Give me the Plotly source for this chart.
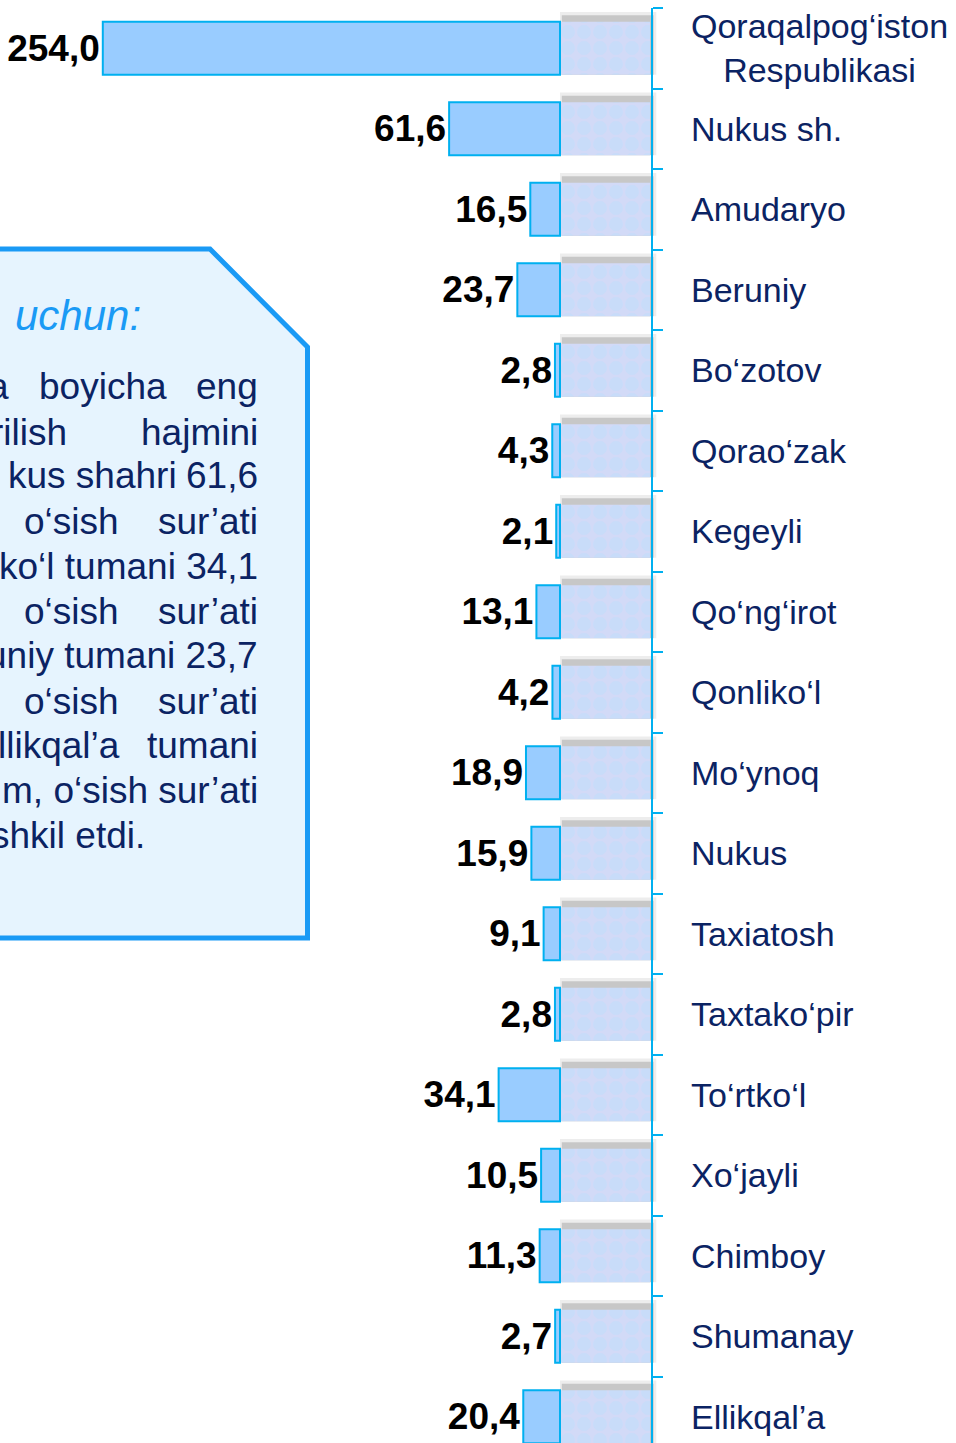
import plotly.graph_objects as go

# ---------------- data ----------------
categories = [
    "Qoraqalpog‘iston<br>Respublikasi", "Nukus sh.", "Amudaryo", "Beruniy", "Bo‘zotov",
    "Qorao‘zak", "Kegeyli", "Qo‘ng‘irot", "Qonliko‘l", "Mo‘ynoq", "Nukus",
    "Taxiatosh", "Taxtako‘pir", "To‘rtko‘l", "Xo‘jayli", "Chimboy", "Shumanay", "Ellikqal’a",
]
values = [254.0, 61.6, 16.5, 23.7, 2.8, 4.3, 2.1, 13.1, 4.2, 18.9, 15.9, 9.1, 2.8, 34.1, 10.5, 11.3, 2.7, 20.4]
backdrop_depth = [50] * len(categories)

W, H = 956, 1443
def px(x):
    return x / W
def py(y):
    return 1 - y / H

NAVY = "#0b2363"
BLUE_LINE = "#00b0f0"

fig = go.Figure()

# soft shadow behind the decorative backdrop blocks
fig.add_trace(go.Bar(
    y=categories, x=[d + 3.5 for d in backdrop_depth], base=[-d - 3.5 for d in backdrop_depth],
    orientation="h", width=0.78, offset=-0.45,
    marker=dict(color="rgba(0,0,0,0.07)", line=dict(width=0)),
    hoverinfo="skip", showlegend=False,
))
fig.add_trace(go.Bar(
    y=categories, x=[d + 1.0 for d in backdrop_depth], base=[-d - 2.0 for d in backdrop_depth],
    orientation="h", width=0.74, offset=-0.41,
    marker=dict(color="rgba(0,0,0,0.16)", line=dict(width=0)),
    hoverinfo="skip", showlegend=False,
))
# textured backdrop blocks
fig.add_trace(go.Bar(
    y=categories, x=backdrop_depth, base=[-d for d in backdrop_depth],
    orientation="h", width=0.66,
    marker=dict(color="rgb(210,218,247)", line=dict(width=0),
                pattern=dict(shape=".", fgcolor="rgb(190,222,252)", size=16, solidity=0.6)),
    hoverinfo="skip", showlegend=False,
))
# value bars
fig.add_trace(go.Bar(
    y=categories, x=values, base=0, orientation="h", width=0.66,
    marker=dict(color="#99ccff", line=dict(color=BLUE_LINE, width=2)),
    texttemplate="%{x:.1f}", textposition="outside", constraintext="none", cliponaxis=False,
    textfont=dict(family="Liberation Sans", size=37, color="black", weight="bold"),
    showlegend=False,
))

# callout box
fig.add_shape(
    type="path", xref="paper", yref="paper",
    path=(f"M {px(-20)},{py(249)} L {px(210)},{py(249)} L {px(307.5)},{py(347)} "
          f"L {px(307.5)},{py(938)} L {px(-20)},{py(938)} Z"),
    fillcolor="#e6f4fe", line=dict(color="#1a9af5", width=5), layer="below",
)

annotations = []
annotations.append(dict(text="uchun:", x=px(143), y=py(316), xref="paper", yref="paper",
                        xanchor="right", yanchor="middle", showarrow=False,
                        font=dict(family="Liberation Sans", size=42, color="#1a9af5", style="italic")))

body_words = [
    # (text, x_px, anchor, y_px)
    ("a", 11, "right", 387), ("boyicha", 169, "right", 387), ("eng", 260, "right", 387),
    ("rilish", 69, "right", 432), ("hajmini", 260, "right", 432),
    ("kus shahri", 179, "right", 476), ("61,6", 260, "right", 476),
    ("o‘sish", 121, "right", 521), ("sur’ati", 260, "right", 521),
    ("ko‘l tumani 34,1", 260, "right", 566),
    ("o‘sish", 121, "right", 611), ("sur’ati", 260, "right", 611),
    ("uniy tumani 23,7", 260, "right", 656),
    ("o‘sish", 121, "right", 701), ("sur’ati", 260, "right", 701),
    ("llikqal’a", 122, "right", 746), ("tumani", 260, "right", 746),
    ("m, o‘sish sur’ati", 260, "right", 790),
    ("shkil etdi.", 147, "right", 835),
]
for t, x, anc, y in body_words:
    annotations.append(dict(text=t, x=px(x), y=py(y), xref="paper", yref="paper",
                            xanchor=anc, yanchor="middle", showarrow=False,
                            font=dict(family="Liberation Sans", size=37, color=NAVY)))

for i, c in enumerate(categories):
    annotations.append(dict(text=c, x=px(689), y=c, xref="paper", yref="y",
                            xanchor="left", yanchor="middle", align="center", showarrow=False,
                            font=dict(family="Liberation Sans", size=34, color=NAVY)))

fig.update_layout(
    width=W, height=H, margin=dict(l=0, r=0, t=0, b=0),
    paper_bgcolor="white", plot_bgcolor="rgba(0,0,0,0)",
    barmode="overlay", separators=", ",
    xaxis=dict(range=[560 / 1.8, (560 - W) / 1.8], visible=False, fixedrange=True),
    yaxis=dict(type="category", categoryorder="array", categoryarray=categories,
               range=[17.326, -0.5], domain=[0, 1 - 8 / H],
               anchor="free", position=652 / W, side="right",
               showline=True, linecolor=BLUE_LINE, linewidth=2,
               ticks="outside", ticklen=10, tickwidth=1.5, tickcolor=BLUE_LINE,
               tickson="boundaries", showticklabels=False, showgrid=False, zeroline=False),
    annotations=annotations,
    showlegend=False,
)

fig.write_html("out.html", config={"displayModeBar": False},
               post_script="document.body.style.margin='0';document.body.style.overflow='hidden';")
